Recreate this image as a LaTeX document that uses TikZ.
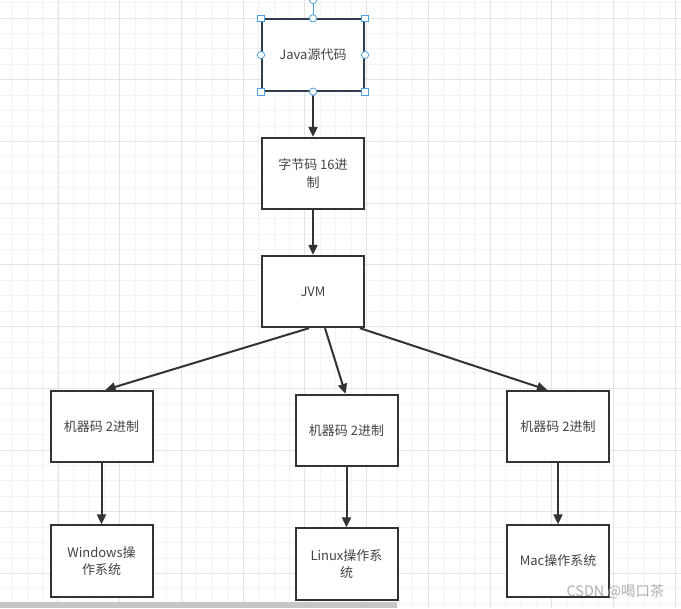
\documentclass[tikz,border=0pt]{standalone}
\usepackage{fontspec}
\setmainfont{Noto Sans CJK SC}
\usetikzlibrary{arrows.meta,calc}

\definecolor{gridminor}{HTML}{F4F4F4}
\definecolor{gridmajor}{HTML}{E4E4E4}
\definecolor{boxline}{HTML}{333333}
\definecolor{selline}{HTML}{2F3E4E}
\definecolor{boxtext}{HTML}{444444}
\definecolor{handleblue}{HTML}{4A9FE0}
\definecolor{scrollgray}{HTML}{C6C6C6}
\definecolor{markgray}{HTML}{B0B0B0}

\begin{document}
\begin{tikzpicture}[
		% pixel units, y pointing down
		x=0.75pt,
		y=-0.75pt,
		box/.style={draw=boxline, line width=1.5pt, fill=white, minimum width=76.5pt, minimum height=53.5pt,
			align=center, text=boxtext, font=\fontsize{9.75}{13}\selectfont},
		arr/.style={draw=boxline, line width=1.5pt, -{Triangle[length=7.5pt, width=6.75pt]}},
		handlesq/.style={draw=handleblue, fill=white, line width=0.6pt, minimum size=5pt, inner sep=0pt},
		handleci/.style={circle, draw=handleblue, fill=white, line width=0.6pt, minimum size=5.5pt, inner sep=0pt}
		]
		
		\useasboundingbox (0,0) rectangle (681,608);
		
		% ==========================================
		% 1. Background grid
		% ==========================================
		\fill[white] (0,0) rectangle (681,608);
		\foreach \i in {0,...,44} {
			\draw[gridminor, line width=0.75pt] (11.7+\i*15.43, 0) -- (11.7+\i*15.43, 608);
		}
		\foreach \j in {0,...,39} {
			\draw[gridminor, line width=0.75pt] (0, 2.57+\j*15.43) -- (681, 2.57+\j*15.43);
		}
		\foreach \i in {0,...,10} {
			\draw[gridmajor, line width=0.75pt] (58+\i*61.72, 0) -- (58+\i*61.72, 608);
		}
		\foreach \j in {0,...,9} {
			\draw[gridmajor, line width=0.75pt] (0, 18+\j*61.72) -- (681, 18+\j*61.72);
		}
		
		% ==========================================
		% 2. Boxes
		% ==========================================
		\node[box, draw=selline] (java) at (313,55) {Java源代码};
		\node[box] (bytecode) at (313,173.5) {字节码 16进\\制};
		\node[box] (jvm) at (313,291.5) {JVM};
		
		\node[box] (mleft) at (101.5,426.5) {机器码 2进制};
		\node[box] (mmid) at (346.5,430.5) {机器码 2进制};
		\node[box] (mright) at (558,426.5) {机器码 2进制};
		
		\node[box] (win) at (101.5,561) {Windows操\\作系统};
		\node[box] (linux) at (346.5,564) {Linux操作系\\统};
		\node[box] (mac) at (558,561) {Mac操作系统};
		
		% ==========================================
		% 3. Connectors
		% ==========================================
		\draw[arr] (java.south) -- (bytecode.north);
		\draw[arr] (bytecode.south) -- (jvm.north);
		
		\draw[arr] ($(jvm.south)+(-4,0)$) -- ($(mleft.north)+(4,0)$);
		\draw[arr] ($(jvm.south)+(12,0)$) -- ($(mmid.north)+(-1,0)$);
		\draw[arr] ($(jvm.south)+(47,0)$) -- ($(mright.north)+(-11,0)$);
		
		\draw[arr] (mleft.south) -- (win.north);
		\draw[arr] (mmid.south) -- (linux.north);
		\draw[arr] (mright.south) -- (mac.north);
		
		% ==========================================
		% 4. Selection handles on the Java box
		% ==========================================
		\coordinate (rot) at (313,0);
		\draw[handleblue, line width=0.6pt] (rot) -- (java.north);
		\node[handleci] (hrot) at (rot) {};
		\foreach \a in {north west, north east, south west, south east} {
			\node[handlesq] at (java.\a) {};
		}
		\foreach \a in {north, south, west, east} {
			\node[handleci] at (java.\a) {};
		}
		
		% ==========================================
		% 5. Scrollbar and watermark
		% ==========================================
		\fill[scrollgray] (0,601.5) rectangle (397,608);
		\node[text=markgray, font=\fontsize{10.8}{13}\selectfont, inner sep=0pt] (mark) at (615.5,592) {CSDN @喝口茶};
		
	\end{tikzpicture}
\end{document}
